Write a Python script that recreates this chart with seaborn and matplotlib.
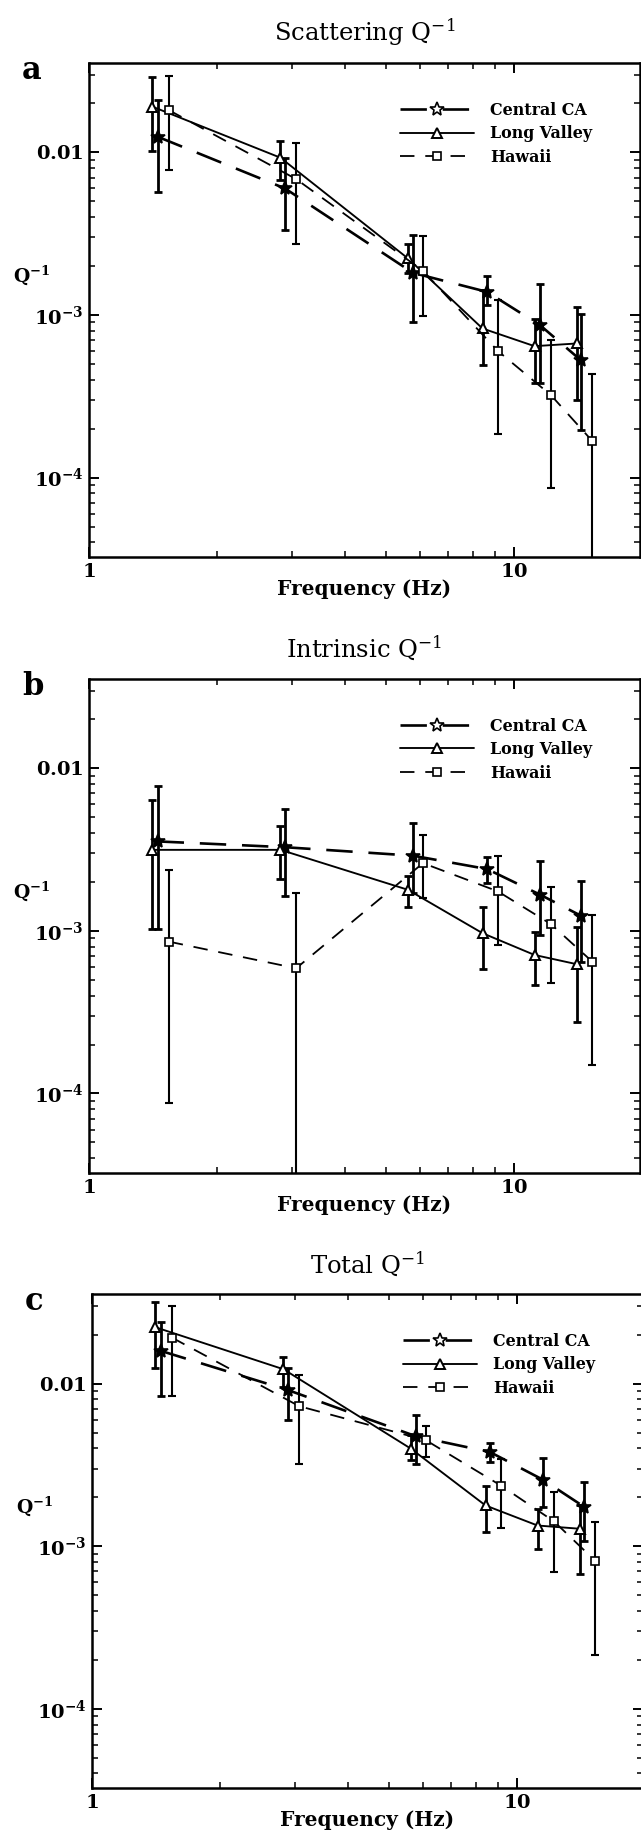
import numpy as np
import pandas as pd
import matplotlib
matplotlib.use("Agg")
import matplotlib.pyplot as plt
import seaborn as sns
from matplotlib.ticker import FixedLocator, FixedFormatter, NullFormatter, LogLocator

# ---------------- data ----------------
sites = ["Central CA", "Long Valley", "Hawaii"]

freq_ca = [1.45, 2.89, 5.78, 8.63, 11.5, 14.34]
freq_lv = [1.41, 2.82, 5.62, 8.42, 11.16, 14.02]
freq_hi = [1.54, 3.07, 6.10, 9.15, 12.2, 15.25]

# Scattering Q^-1
scat_ca = [0.01248, 0.0060, 0.001815, 0.001387, 0.000865, 0.000527]
scat_ca_lo = [0.00573, 0.00333, 0.000908, 0.00115, 0.000379, 0.000195]
scat_ca_hi = [0.0210, 0.00927, 0.00310, 0.00173, 0.00156, 0.00102]
scat_lv = [0.0191, 0.00927, 0.00223, 0.000826, 0.000643, 0.000668]
scat_lv_lo = [0.0102, 0.00676, 0.00180, 0.000491, 0.00038, 0.000299]
scat_lv_hi = [0.029, 0.01174, 0.00272, 0.00142, 0.00095, 0.00112]
scat_hi = [0.0182, 0.00685, 0.00187, 0.000601, 0.000321, 0.000168]
scat_hi_lo = [0.00778, 0.00272, 0.000986, 0.000185, 8.67e-5, 1e-5]
scat_hi_hi = [0.0296, 0.01146, 0.00305, 0.00123, 0.000706, 0.000432]

# Intrinsic Q^-1
intr_ca = [0.00355, 0.00327, 0.0029, 0.0024, 0.00167, 0.00124]
intr_ca_lo = [0.00102, 0.00164, 0.0017, 0.00196, 0.000944, 0.00064]
intr_ca_hi = [0.0078, 0.00561, 0.0046, 0.00286, 0.0027, 0.00203]
intr_lv = [0.00315, 0.00315, 0.00179, 0.000968, 0.000711, 0.000624]
intr_lv_lo = [0.00102, 0.00208, 0.00141, 0.000583, 0.000466, 0.000277]
intr_lv_hi = [0.00634, 0.00442, 0.00216, 0.0014, 0.00099, 0.00106]
intr_hi = [0.000859, 0.000589, 0.00261, 0.00175, 0.0011, 0.000647]
intr_hi_lo = [8.7e-5, 1e-5, 0.00159, 0.00082, 0.000477, 0.00015]
intr_hi_hi = [0.00237, 0.0017, 0.0039, 0.0029, 0.00186, 0.00125]

# Total Q^-1
tot_ca = [0.0159, 0.00912, 0.00474, 0.00379, 0.00256, 0.00175]
tot_ca_lo = [0.00838, 0.00595, 0.00321, 0.00329, 0.00174, 0.00107]
tot_ca_hi = [0.0239, 0.0124, 0.0064, 0.00431, 0.0035, 0.00248]
tot_lv = [0.0222, 0.01225, 0.00398, 0.00178, 0.00134, 0.00128]
tot_lv_lo = [0.0124, 0.00955, 0.0034, 0.00122, 0.000962, 0.000679]
tot_lv_hi = [0.0316, 0.01463, 0.00481, 0.00233, 0.0017, 0.0018]
tot_hi = [0.0192, 0.00726, 0.00448, 0.00236, 0.00142, 0.000813]
tot_hi_lo = [0.00838, 0.00321, 0.00353, 0.00129, 0.000689, 0.000214]
tot_hi_hi = [0.0298, 0.01128, 0.00547, 0.00345, 0.00215, 0.0014]

titles = ["Scattering Q$^{-1}$", "Intrinsic Q$^{-1}$", "Total Q$^{-1}$"]
letters = ["a", "b", "c"]
x_ticks = [1, 10]
x_ticklabels = [r"$\mathbf{1}$", r"$\mathbf{10}$"]
y_ticks = [1e-4, 1e-3, 1e-2]
y_ticklabels = [r"$\mathbf{10^{-4}}$", r"$\mathbf{10^{-3}}$", r"$\mathbf{0.01}$"]

# ---------------- style ----------------
sns.set_style("ticks")
plt.rcParams["font.family"] = ["DejaVu Serif"]
plt.rcParams["mathtext.fontset"] = "dejavuserif"
for key in ["text.color", "axes.labelcolor", "xtick.color", "ytick.color", "axes.edgecolor"]:
    plt.rcParams[key] = "black"

W, H = 641, 1848
fig = plt.figure(figsize=(W / 100, H / 100), dpi=100)

AX_W = 550.5
AX_H = 494.0
panel_geom = [(89.0, 63.1), (89.0, 679.0), (92.0, 1294.3)]  # left, top (px)

series_style = {
    "Central CA": dict(ls=(0, (10, 6)), lw=1.9, marker="*", ms=10, mew=1.2,
                       mfc="black", elw=2.0),
    "Long Valley": dict(ls="-", lw=1.35, marker="^", ms=7, mew=1.4,
                        mfc="white", elw=2.0),
    "Hawaii": dict(ls=(0, (8, 6)), lw=1.3, marker="s", ms=5.5, mew=1.2,
                   mfc="white", elw=1.5),
}

panel_data = [
    {"Central CA": (freq_ca, scat_ca, scat_ca_lo, scat_ca_hi),
     "Long Valley": (freq_lv, scat_lv, scat_lv_lo, scat_lv_hi),
     "Hawaii": (freq_hi, scat_hi, scat_hi_lo, scat_hi_hi)},
    {"Central CA": (freq_ca, intr_ca, intr_ca_lo, intr_ca_hi),
     "Long Valley": (freq_lv, intr_lv, intr_lv_lo, intr_lv_hi),
     "Hawaii": (freq_hi, intr_hi, intr_hi_lo, intr_hi_hi)},
    {"Central CA": (freq_ca, tot_ca, tot_ca_lo, tot_ca_hi),
     "Long Valley": (freq_lv, tot_lv, tot_lv_lo, tot_lv_hi),
     "Hawaii": (freq_hi, tot_hi, tot_hi_lo, tot_hi_hi)},
]

for i in range(3):
    left, top = panel_geom[i]
    ax = fig.add_axes([left / W, (H - top - AX_H) / H, AX_W / W, AX_H / H])
    ax.set_xscale("log")
    ax.set_yscale("log")

    for name in sites:
        f, q, lo, hi = panel_data[i][name]
        st = series_style[name]
        q_arr = np.array(q)
        yerr = [q_arr - np.array(lo), np.array(hi) - q_arr]
        ax.errorbar(f, q, yerr=yerr, fmt="none", ecolor="black",
                    elinewidth=st["elw"], capsize=3.0, capthick=st["elw"], zorder=2)
        df = pd.DataFrame({"f": f, "q": q})
        sns.lineplot(data=df, x="f", y="q", ax=ax, color="black",
                     linestyle=st["ls"], lw=st["lw"], marker=st["marker"],
                     markersize=st["ms"], markerfacecolor=st["mfc"],
                     markeredgecolor="black", markeredgewidth=st["mew"],
                     estimator=None, sort=False, label=name, zorder=3)

    ax.set_xlim(1, 19.7)
    ax.set_ylim(10 ** -4.489, 10 ** -1.451)

    ax.xaxis.set_major_locator(FixedLocator(x_ticks))
    ax.xaxis.set_major_formatter(FixedFormatter(x_ticklabels))
    ax.xaxis.set_minor_locator(LogLocator(base=10, subs=np.arange(2, 10)))
    ax.xaxis.set_minor_formatter(NullFormatter())
    ax.yaxis.set_major_locator(FixedLocator(y_ticks))
    ax.yaxis.set_major_formatter(FixedFormatter(y_ticklabels))
    ax.yaxis.set_minor_locator(LogLocator(base=10, subs=np.arange(2, 10)))
    ax.yaxis.set_minor_formatter(NullFormatter())

    ax.tick_params(which="both", direction="in", top=True, right=True, colors="black")
    ax.tick_params(which="major", length=7, width=1.4, labelsize=14, pad=4)
    ax.tick_params(which="minor", length=4, width=1.1)
    for sp in ax.spines.values():
        sp.set_linewidth(1.8)
        sp.set_color("black")

    ax.set_xlabel("Frequency (Hz)", fontsize=14.5, fontweight="bold", va="center",
                  color="black")
    ax.xaxis.set_label_coords(0.5, -32 / AX_H)
    ax.set_ylabel(r"$\mathbf{Q^{-1}}$", rotation=0, fontsize=13.5, ha="center",
                  va="center", color="black")
    ax.yaxis.set_label_coords(-0.105, 0.57)

    ax.text(0.5, 1 + 31 / AX_H, titles[i], transform=ax.transAxes,
            ha="center", va="center", fontsize=17.5, color="black")
    fig.text((22 if i < 2 else 25) / W, 1 - (top + 16) / H, letters[i],
             fontsize=22, fontweight="bold", va="baseline", ha="left", color="black")

    handles, labels = ax.get_legend_handles_labels()
    leg = ax.legend(handles, labels, loc="upper left", bbox_to_anchor=(0.565, 0.922),
                    frameon=False, handlelength=4.7, handletextpad=1.0,
                    labelspacing=0.41, borderpad=0, borderaxespad=0,
                    prop={"weight": "bold", "size": 11.4})
    for t in leg.get_texts():
        t.set_color("black")
    for h in leg.legend_handles:
        h.set_markerfacecolor("white")

fig.savefig("out.png", dpi=100)
